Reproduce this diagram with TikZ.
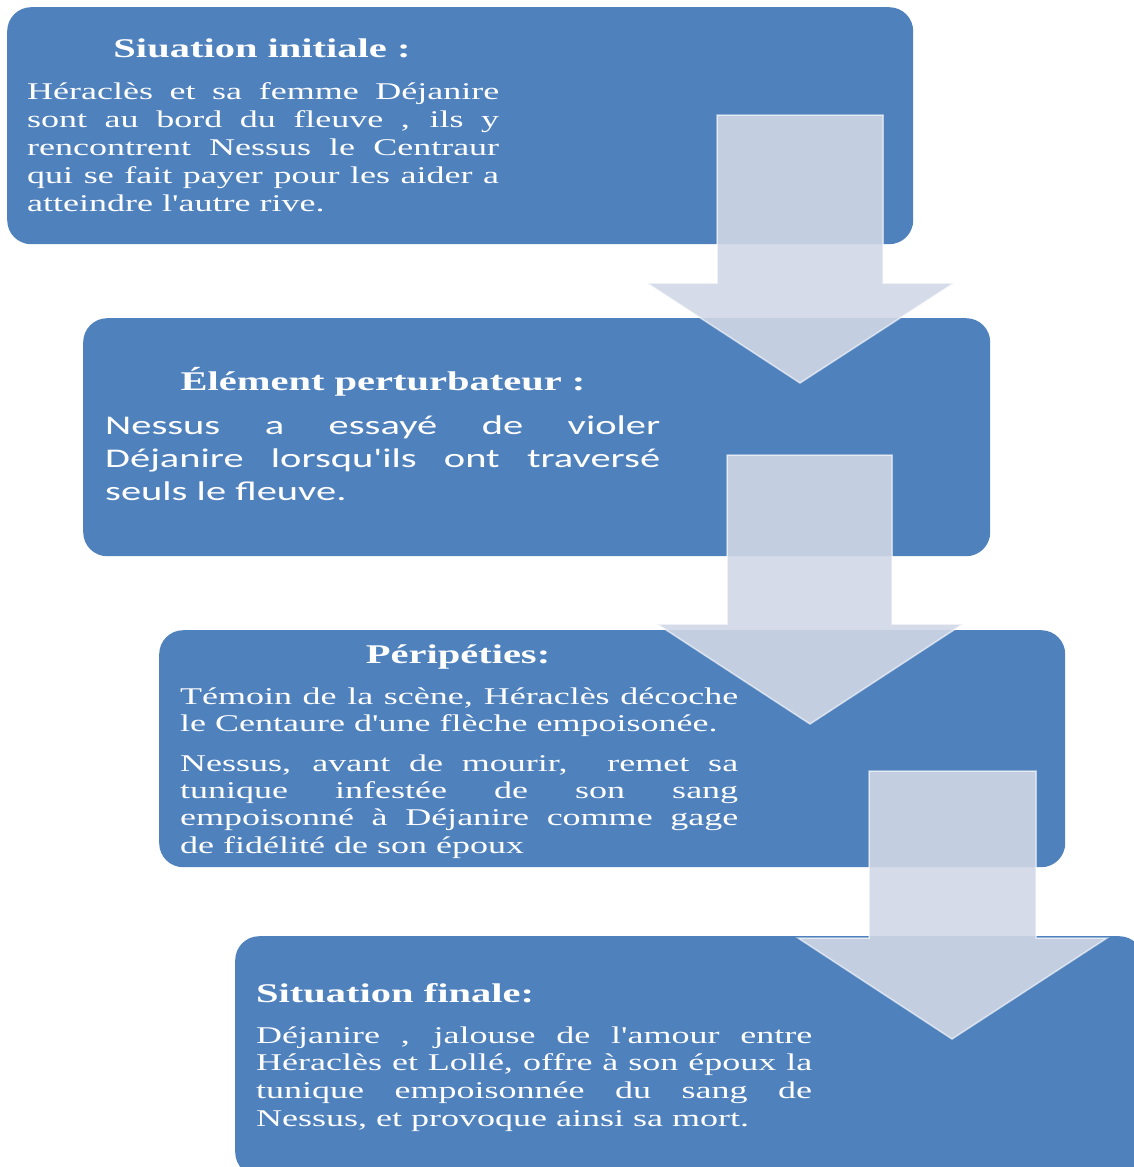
\documentclass[tikz,border=0pt]{standalone}
\usepackage{fontspec}
\newfontfamily\timesf{Liberation Serif}[FakeStretch=1.5]
\newfontfamily\calfont{Carlito}[FakeStretch=1.5]
\definecolor{boxblue}{HTML}{4F81BD}
\definecolor{arrowfill}{HTML}{D0D7E5}
\newcommand\jline[2]{\makebox[#1][s]{#2}}
\newcommand\nline[1]{\mbox{#1}}
\tikzset{
  panel/.style={fill=boxblue, draw=none, rounded corners=24pt, anchor=north west, inner sep=0},
  flowarrow/.style={fill=arrowfill, fill opacity=0.9, draw=white, draw opacity=0.6, line width=1.5pt, line join=miter},
  titletext/.style={text=white, font=\timesf\fontsize{27}{32}\selectfont\bfseries, inner sep=0, anchor=base},
  bodytext/.style={text=white, inner sep=0, anchor=base west},
}
\begin{document}
\begin{tikzpicture}[x=1pt, y=-1pt]
\useasboundingbox (0,0) rectangle (1134,1167);
% panels
\node[panel, minimum width=906pt, minimum height=237pt] (b1) at (7,7) {};
\node[panel, minimum width=907pt, minimum height=238pt] (b2) at (83,318) {};
\node[panel, minimum width=906pt, minimum height=237pt] (b3) at (159,630) {};
\node[panel, minimum width=908pt, minimum height=240pt] (b4) at (235,936) {};
% titles
\node[titletext] (t1) at (262,57) {Siuation initiale :};
\node[titletext] (t2) at (383,390) {Élément perturbateur :};
\node[titletext] (t3) at (458,663) {Péripéties:};
\node[titletext, anchor=base west] (t4) at (256,1002) {Situation finale:};
% bodies
\node[bodytext] (p1) at (27,99) {\parbox[t]{472pt}{\timesf\fontsize{24}{28}\selectfont
\jline{472pt}{Héraclès et sa femme Déjanire}\\
\jline{472pt}{sont au bord du fleuve , ils y}\\
\jline{472pt}{rencontrent Nessus le Centraur}\\
\jline{472pt}{qui se fait payer pour les aider a}\\
\nline{atteindre l'autre rive.}}};
\node[bodytext] (p2) at (105,434) {\parbox[t]{555pt}{\calfont\fontsize{27}{33}\selectfont
\jline{555pt}{Nessus a essayé de violer}\\
\jline{555pt}{Déjanire lorsqu'ils ont traversé}\\
\nline{seuls le fleuve.}}};
\node[bodytext] (p3) at (180,704) {\parbox[t]{558pt}{\timesf\fontsize{24}{27.3}\selectfont
\jline{558pt}{Témoin de la scène, Héraclès décoche}\\
\nline{le Centaure d'une flèche empoisonée.}}};
\node[bodytext] (p4) at (180,771) {\parbox[t]{558pt}{\timesf\fontsize{24}{27.4}\selectfont
\jline{558pt}{Nessus, avant de mourir, \ remet sa}\\
\jline{558pt}{tunique infestée de son sang}\\
\jline{558pt}{empoisonné à Déjanire comme gage}\\
\nline{de fidélité de son époux}}};
\node[bodytext] (p5) at (256,1043) {\parbox[t]{556pt}{\timesf\fontsize{24}{27.7}\selectfont
\jline{556pt}{Déjanire , jalouse de l'amour entre}\\
\jline{556pt}{Héraclès et Lollé, offre à son époux la}\\
\jline{556pt}{tunique empoisonnée du sang de}\\
\nline{Nessus, et provoque ainsi sa mort.}}};
% block arrows
\draw[flowarrow] (717,115) -- (883,115) -- (883,283) -- (954,283) -- (800,383) -- (647,283) -- (717,283) -- cycle;
\draw[flowarrow] (727,455) -- (892,455) -- (892,624) -- (963,624) -- (810,724) -- (657,624) -- (727,624) -- cycle;
\draw[flowarrow] (869,771) -- (1036,771) -- (1036,938) -- (1107,938) -- (952,1039) -- (798,938) -- (869,938) -- cycle;
\end{tikzpicture}
\end{document}
